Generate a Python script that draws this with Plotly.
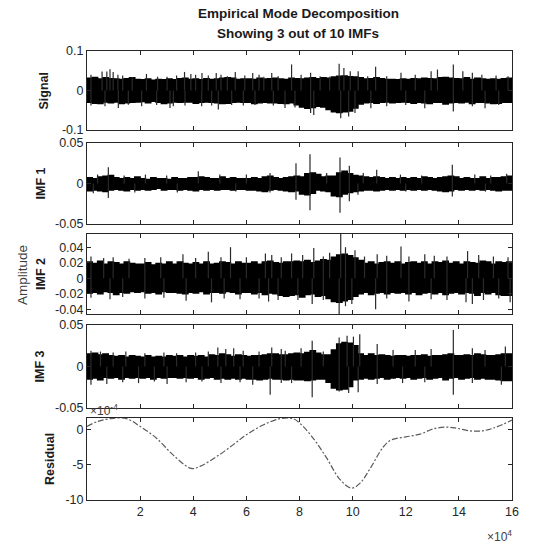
import plotly.graph_objects as go

# ---- data ----
bin_size = 2000  # samples per envelope bin
n_samples = 160000

signal_hi = [0.031, 0.033, 0.029, 0.032, 0.030, 0.029, 0.028, 0.030, 0.032, 0.028,
             0.027, 0.029, 0.026, 0.028, 0.027, 0.029, 0.027, 0.030, 0.031, 0.028,
             0.029, 0.027, 0.030, 0.028, 0.029, 0.031, 0.032, 0.031, 0.028, 0.029,
             0.029, 0.028, 0.031, 0.029, 0.030, 0.031, 0.029, 0.028, 0.031, 0.030,
             0.029, 0.031, 0.032, 0.030, 0.032, 0.031, 0.034, 0.036, 0.037, 0.035,
             0.034, 0.032, 0.029, 0.030, 0.032, 0.030, 0.028, 0.028, 0.027, 0.029,
             0.028, 0.030, 0.029, 0.031, 0.030, 0.029, 0.032, 0.033, 0.031, 0.030,
             0.029, 0.032, 0.028, 0.031, 0.029, 0.028, 0.029, 0.028, 0.030, 0.031]
signal_lo = [-0.028, -0.030, -0.032, -0.033, -0.029, -0.031, -0.029, -0.033, -0.031, -0.030,
             -0.029, -0.028, -0.031, -0.027, -0.030, -0.033, -0.031, -0.029, -0.030, -0.029,
             -0.029, -0.032, -0.030, -0.029, -0.030, -0.031, -0.033, -0.032, -0.030, -0.029,
             -0.030, -0.030, -0.033, -0.031, -0.030, -0.031, -0.031, -0.032, -0.033, -0.031,
             -0.036, -0.042, -0.045, -0.043, -0.040, -0.042, -0.048, -0.054, -0.056, -0.054,
             -0.052, -0.044, -0.034, -0.031, -0.030, -0.032, -0.030, -0.029, -0.031, -0.030,
             -0.029, -0.030, -0.032, -0.030, -0.031, -0.033, -0.030, -0.030, -0.034, -0.031,
             -0.030, -0.031, -0.029, -0.033, -0.030, -0.030, -0.031, -0.033, -0.032, -0.030]
signal_up_x = [1493, 5672, 7463, 8657, 9851, 11642, 13433, 17015, 22388, 26567, 30149, 33731,
               36716, 39104, 40895, 43283, 45671, 48656, 50447, 52835, 55820, 59402, 62387,
               64775, 66566, 69551, 71939, 77015, 80597, 84179, 87761, 91343, 94925, 96716,
               99104, 102089, 105671, 108656, 112835, 118208, 123581, 129551, 131939,
               137909, 141491, 145073, 148655, 154000, 158500]
signal_up = [0.040, 0.048, 0.048, 0.054, 0.047, 0.040, 0.038, 0.034, 0.042, 0.035, 0.035, 0.038,
             0.047, 0.042, 0.040, 0.044, 0.038, 0.044, 0.040, 0.036, 0.047, 0.038, 0.044,
             0.040, 0.035, 0.044, 0.036, 0.066, 0.040, 0.045, 0.036, 0.035, 0.068, 0.057,
             0.049, 0.049, 0.036, 0.060, 0.036, 0.045, 0.040, 0.049, 0.053, 0.066, 0.049,
             0.045, 0.040, 0.038, 0.036]
signal_dn_x = [1493, 6776, 11796, 15561, 20580, 26228, 31247, 32502, 36894, 43169, 46934, 49443,
               54463, 58855, 63247, 70148, 74541, 78306, 84179, 85373, 95522, 98507, 100895,
               106865, 112835, 119999, 127163, 137909, 145073, 149849, 155000]
signal_dn = [-0.038, -0.040, -0.044, -0.036, -0.040, -0.037, -0.044, -0.040, -0.038, -0.040,
             -0.038, -0.048, -0.037, -0.038, -0.037, -0.038, -0.044, -0.043, -0.057, -0.062,
             -0.070, -0.066, -0.057, -0.045, -0.040, -0.037, -0.045, -0.053, -0.040, -0.045,
             -0.037]

imf1_hi = [0.007, 0.006, 0.008, 0.009, 0.010, 0.007, 0.006, 0.007, 0.006, 0.008,
           0.006, 0.005, 0.007, 0.006, 0.006, 0.005, 0.007, 0.006, 0.006, 0.007,
           0.007, 0.008, 0.007, 0.006, 0.006, 0.008, 0.006, 0.007, 0.006, 0.006,
           0.006, 0.007, 0.006, 0.008, 0.009, 0.007, 0.006, 0.007, 0.008, 0.009,
           0.008, 0.012, 0.013, 0.011, 0.008, 0.009, 0.009, 0.013, 0.015, 0.012,
           0.010, 0.009, 0.008, 0.007, 0.008, 0.007, 0.006, 0.007, 0.006, 0.007,
           0.006, 0.007, 0.006, 0.008, 0.007, 0.006, 0.007, 0.008, 0.009, 0.008,
           0.006, 0.007, 0.006, 0.006, 0.008, 0.006, 0.007, 0.007, 0.008, 0.009]
imf1_lo = [-0.007, -0.009, -0.008, -0.009, -0.010, -0.008, -0.007, -0.008, -0.009, -0.007,
           -0.008, -0.007, -0.008, -0.007, -0.006, -0.008, -0.007, -0.007, -0.008, -0.007,
           -0.008, -0.009, -0.007, -0.008, -0.007, -0.008, -0.007, -0.007, -0.008, -0.007,
           -0.007, -0.008, -0.008, -0.009, -0.010, -0.008, -0.007, -0.008, -0.009, -0.010,
           -0.009, -0.013, -0.014, -0.012, -0.008, -0.009, -0.010, -0.015, -0.016, -0.013,
           -0.011, -0.010, -0.009, -0.008, -0.008, -0.009, -0.008, -0.007, -0.008, -0.007,
           -0.008, -0.007, -0.008, -0.007, -0.008, -0.007, -0.008, -0.009, -0.010, -0.009,
           -0.007, -0.008, -0.007, -0.008, -0.007, -0.008, -0.007, -0.008, -0.009, -0.008]
imf1_up_x = [4000, 8030, 14000, 22000, 30000, 41900, 50000, 60000, 68900, 78680, 83950, 90230,
             95250, 98760, 104000, 109060, 118000, 126000, 137530, 146000, 152000, 158000]
imf1_up = [0.011, 0.020, 0.010, 0.011, 0.010, 0.015, 0.011, 0.011, 0.013, 0.025, 0.036, 0.013,
           0.032, 0.022, 0.013, 0.017, 0.011, 0.010, 0.023, 0.011, 0.010, 0.012]
imf1_dn_x = [2370, 8030, 18000, 34000, 56000, 68900, 78680, 83950, 95250, 98760, 102000,
             120000, 137530, 150000]
imf1_dn = [-0.012, -0.018, -0.011, -0.011, -0.010, -0.011, -0.020, -0.033, -0.036, -0.022,
           -0.014, -0.010, -0.016, -0.010]

imf2_hi = [0.021, 0.019, 0.022, 0.018, 0.021, 0.020, 0.018, 0.021, 0.019, 0.018,
           0.018, 0.020, 0.017, 0.019, 0.018, 0.021, 0.018, 0.021, 0.019, 0.018,
           0.020, 0.018, 0.021, 0.018, 0.019, 0.021, 0.020, 0.018, 0.021, 0.019,
           0.019, 0.021, 0.018, 0.021, 0.022, 0.020, 0.019, 0.021, 0.021, 0.022,
           0.021, 0.023, 0.020, 0.022, 0.024, 0.023, 0.027, 0.030, 0.031, 0.029,
           0.026, 0.023, 0.019, 0.021, 0.018, 0.020, 0.021, 0.019, 0.021, 0.018,
           0.020, 0.021, 0.019, 0.021, 0.018, 0.021, 0.020, 0.022, 0.019, 0.021,
           0.018, 0.021, 0.020, 0.019, 0.022, 0.021, 0.018, 0.021, 0.020, 0.021]
imf2_lo = [-0.017, -0.019, -0.018, -0.020, -0.017, -0.018, -0.021, -0.018, -0.019, -0.017,
           -0.018, -0.017, -0.019, -0.018, -0.020, -0.017, -0.018, -0.018, -0.019, -0.020,
           -0.018, -0.019, -0.017, -0.020, -0.018, -0.018, -0.019, -0.017, -0.018, -0.020,
           -0.018, -0.018, -0.020, -0.018, -0.021, -0.019, -0.020, -0.022, -0.023, -0.022,
           -0.021, -0.024, -0.021, -0.020, -0.023, -0.022, -0.026, -0.030, -0.031, -0.029,
           -0.027, -0.023, -0.020, -0.018, -0.021, -0.019, -0.018, -0.020, -0.018, -0.019,
           -0.018, -0.020, -0.018, -0.021, -0.019, -0.018, -0.020, -0.018, -0.021, -0.019,
           -0.018, -0.020, -0.018, -0.019, -0.022, -0.018, -0.020, -0.018, -0.021, -0.022]
imf2_up_x = [1493, 6270, 9851, 15821, 21791, 27761, 36119, 40895, 45671, 50447, 54029, 60000,
             67163, 69551, 73133, 77015, 81194, 85373, 88955, 91343, 95522, 97313, 100895,
             104477, 109253, 112835, 118208, 121193, 127163, 130745, 135521, 143282, 147461,
             153000, 158500]
imf2_up = [0.028, 0.026, 0.027, 0.025, 0.026, 0.027, 0.031, 0.026, 0.034, 0.027, 0.040, 0.027,
           0.032, 0.030, 0.027, 0.032, 0.030, 0.039, 0.028, 0.033, 0.057, 0.040, 0.036,
           0.028, 0.031, 0.029, 0.041, 0.028, 0.031, 0.029, 0.028, 0.035, 0.030,
           0.028, 0.027]
imf2_dn_x = [1493, 8657, 13433, 21791, 28955, 37313, 46865, 51641, 57611, 64775, 68357, 71939,
             79403, 84776, 88955, 94925, 97313, 99701, 108656, 112835, 121193, 129551,
             135521, 142685, 145073, 149252, 155000, 159300]
imf2_dn = [-0.025, -0.027, -0.024, -0.026, -0.025, -0.029, -0.031, -0.026, -0.027, -0.026,
           -0.030, -0.028, -0.028, -0.033, -0.028, -0.046, -0.036, -0.033, -0.040, -0.026,
           -0.030, -0.027, -0.028, -0.031, -0.033, -0.028, -0.026, -0.031]

imf3_hi = [0.015, 0.016, 0.014, 0.015, 0.013, 0.012, 0.013, 0.011, 0.013, 0.012,
           0.011, 0.013, 0.011, 0.012, 0.011, 0.013, 0.012, 0.013, 0.011, 0.013,
           0.012, 0.013, 0.011, 0.014, 0.013, 0.015, 0.014, 0.012, 0.014, 0.013,
           0.012, 0.013, 0.013, 0.014, 0.015, 0.015, 0.014, 0.014, 0.015, 0.016,
           0.015, 0.017, 0.019, 0.016, 0.014, 0.014, 0.020, 0.027, 0.029, 0.028,
           0.025, 0.015, 0.013, 0.015, 0.013, 0.014, 0.013, 0.012, 0.013, 0.013,
           0.012, 0.013, 0.013, 0.014, 0.012, 0.013, 0.013, 0.014, 0.015, 0.013,
           0.013, 0.014, 0.013, 0.015, 0.014, 0.013, 0.013, 0.014, 0.015, 0.015]
imf3_lo = [-0.014, -0.015, -0.014, -0.016, -0.013, -0.014, -0.013, -0.015, -0.013, -0.014,
           -0.013, -0.014, -0.013, -0.015, -0.013, -0.014, -0.013, -0.013, -0.014, -0.013,
           -0.014, -0.013, -0.015, -0.014, -0.013, -0.015, -0.014, -0.015, -0.014, -0.015,
           -0.014, -0.015, -0.015, -0.016, -0.015, -0.014, -0.015, -0.015, -0.016, -0.015,
           -0.016, -0.016, -0.017, -0.016, -0.015, -0.015, -0.019, -0.026, -0.028, -0.027,
           -0.024, -0.016, -0.015, -0.014, -0.015, -0.014, -0.013, -0.015, -0.014, -0.013,
           -0.014, -0.013, -0.015, -0.014, -0.013, -0.015, -0.014, -0.013, -0.016, -0.014,
           -0.013, -0.015, -0.014, -0.013, -0.015, -0.014, -0.015, -0.015, -0.016, -0.017]
imf3_up_x = [1493, 5075, 9851, 14627, 21791, 28955, 33731, 40895, 45671, 49253, 52238, 55223,
             58805, 64775, 69551, 73133, 74627, 80597, 84776, 88955, 94925, 97910, 100298,
             102686, 109253, 115223, 123581, 129551, 137909, 145073, 149849, 157500]
imf3_up = [0.019, 0.018, 0.017, 0.018, 0.016, 0.017, 0.016, 0.017, 0.018, 0.023, 0.021, 0.022,
           0.019, 0.018, 0.023, 0.021, 0.019, 0.022, 0.031, 0.018, 0.035, 0.037, 0.036,
           0.039, 0.027, 0.020, 0.020, 0.021, 0.044, 0.022, 0.020, 0.024]
imf3_dn_x = [1493, 7463, 13433, 19403, 25373, 30149, 37313, 43283, 50447, 57611, 62387, 68954,
             73133, 77015, 84776, 94925, 98507, 102089, 109253, 118805, 127163, 137909,
             145073, 156000]
imf3_dn = [-0.022, -0.021, -0.019, -0.020, -0.018, -0.021, -0.019, -0.018, -0.020, -0.019,
           -0.022, -0.034, -0.020, -0.020, -0.037, -0.030, -0.032, -0.031, -0.021, -0.020,
           -0.019, -0.034, -0.020, -0.022]

# residual, in units of 1e-4
residual_x = [0, 4000, 8660, 14900, 20000, 26200, 32500, 39200, 42500, 48800, 55100, 60000,
              66300, 72700, 77600, 80000, 85200, 90200, 95300, 99600, 102800, 106600,
              111600, 114700, 120000, 125400, 130300, 135400, 139200, 144200, 148600,
              152900, 160000]
residual_e4 = [0.5, 1.2, 1.6, 1.6, 0.5, -1.2, -3.6, -5.5, -5.2, -3.8, -2.1, -0.7,
               0.7, 1.6, 1.6, 1.0, -1.2, -4.0, -7.1, -8.3, -7.6, -5.5,
               -2.4, -1.4, -1.0, -0.6, 0.14, 0.4, 0.24, -0.14, -0.14,
               0.24, 1.4]

panel_names = ["Signal", "IMF 1", "IMF 2", "IMF 3", "Residual"]
y_ranges = [[-0.1, 0.1], [-0.05, 0.05], [-0.046, 0.057], [-0.05, 0.05], [-10, 1.7]]
y_tickvals = [[-0.1, 0, 0.1], [-0.05, 0, 0.05], [-0.04, -0.02, 0, 0.02, 0.04],
              [-0.05, 0, 0.05], [-10, -5, 0]]
y_ticktext = [["-0.1", "0", "0.1"], ["-0.05", "0", "0.05"],
              ["-0.04", "-0.02", "0", "0.02", "0.04"], ["-0.05", "0", "0.05"],
              ["-10", "-5", "0"]]
x_tickvals = [20000, 40000, 60000, 80000, 100000, 120000, 140000, 160000]
x_ticktext = ["2", "4", "6", "8", "10", "12", "14", "16"]

# ---- layout geometry (screen pixels) ----
W, H = 550, 546
ML, MR = 87, 550 - 512
panel_px = [(51, 130), (143, 224), (234, 314), (325, 408), (418, 500)]

fig = go.Figure()
series = [(signal_hi, signal_lo, signal_up_x, signal_up, signal_dn_x, signal_dn),
          (imf1_hi, imf1_lo, imf1_up_x, imf1_up, imf1_dn_x, imf1_dn),
          (imf2_hi, imf2_lo, imf2_up_x, imf2_up, imf2_dn_x, imf2_dn),
          (imf3_hi, imf3_lo, imf3_up_x, imf3_up, imf3_dn_x, imf3_dn)]

font_family = "Liberation Sans, Arial, sans-serif"
tick_col = "#262626"
TICK_FS = 12.5

for k, (hi, lo, ux, uy, dx, dy) in enumerate(series):
    ax = "" if k == 0 else str(k + 1)
    edges = [bin_size * i for i in range(len(hi))]
    xs = edges + [n_samples] + [n_samples] + edges[::-1]
    ys = hi + [hi[-1]] + [lo[-1]] + lo[::-1]
    fig.add_trace(go.Scatter(x=xs, y=ys, mode="lines", fill="toself", line_shape="hv",
                             fillcolor="black", line=dict(color="black", width=1.5),
                             xaxis="x" + ax, yaxis="y" + ax, showlegend=False,
                             hoverinfo="skip"))
    px_, py_ = [], []
    for x0, v in list(zip(ux, uy)) + list(zip(dx, dy)):
        px_ += [x0, x0, None]
        py_ += [0, v, None]
    fig.add_trace(go.Scatter(x=px_, y=py_, mode="lines",
                             line=dict(color="#2a2a2a", width=1.2),
                             xaxis="x" + ax, yaxis="y" + ax, showlegend=False,
                             hoverinfo="skip"))

fig.add_trace(go.Scatter(x=residual_x, y=residual_e4, mode="lines", line_shape="spline",
                         line=dict(color="#5a5a5a", width=1.2, dash="6px,2px,2px,2px"),
                         xaxis="x5", yaxis="y5", showlegend=False))

layout = dict(width=W, height=H, margin=dict(l=ML, r=MR, t=0, b=0, autoexpand=False),
              paper_bgcolor="white", plot_bgcolor="white",
              font=dict(family=font_family, size=TICK_FS, color=tick_col))
for k in range(5):
    top, bot = panel_px[k]
    ax = "" if k == 0 else str(k + 1)
    layout["xaxis" + ax] = dict(
        domain=[0, 1], range=[0, n_samples], anchor="y" + ax, automargin=False,
        tickvals=x_tickvals, ticktext=x_ticktext if k == 4 else [""] * len(x_tickvals),
        showticklabels=(k == 4),
        ticks="inside", ticklen=4, tickcolor=tick_col, mirror="ticks",
        showline=True, linecolor=tick_col, linewidth=1, showgrid=False, zeroline=False,
        tickfont=dict(size=TICK_FS, color=tick_col))
    layout["yaxis" + ax] = dict(
        domain=[1 - bot / H, 1 - top / H], range=y_ranges[k], anchor="x" + ax,
        automargin=False,
        tickvals=y_tickvals[k], ticktext=y_ticktext[k],
        ticks="inside", ticklen=4, tickcolor=tick_col, mirror="ticks",
        showline=True, linecolor=tick_col, linewidth=1, showgrid=False, zeroline=False,
        tickfont=dict(size=TICK_FS, color=tick_col))
fig.update_layout(**layout)

PW = W - ML - MR
def xp(px):
    return (px - ML) / PW

def yp(py):
    return 1 - py / H

annos = []
label_x = [44, 40, 41, 40, 50]
for k in range(5):
    top, bot = panel_px[k]
    annos.append(dict(text="<b>" + panel_names[k] + "</b>", x=xp(label_x[k]), xref="paper",
                      y=yp((top + bot) / 2), yref="paper", textangle=-90,
                      showarrow=False, font=dict(size=12.5, color="#1a1a1a"),
                      xanchor="center", yanchor="middle"))
annos.append(dict(text="Amplitude", x=xp(22), xref="paper", y=yp(275), yref="paper",
                  textangle=-90, showarrow=False, font=dict(size=13.5, color="#404040"),
                  xanchor="center", yanchor="middle"))
annos.append(dict(text="<b>Empirical Mode Decomposition</b>", x=xp(298), xref="paper",
                  y=yp(13), yref="paper", showarrow=False,
                  font=dict(size=13.5, color="#1a1a1a"), xanchor="center", yanchor="middle"))
annos.append(dict(text="<b>Showing 3 out of 10 IMFs</b>", x=xp(298), xref="paper",
                  y=yp(33), yref="paper", showarrow=False,
                  font=dict(size=13.5, color="#1a1a1a"), xanchor="center", yanchor="middle"))
annos.append(dict(text="×10<sup>4</sup>", x=xp(514), xref="paper", y=yp(536), yref="paper",
                  showarrow=False, font=dict(size=12, color="#404040"),
                  xanchor="right", yanchor="middle"))
annos.append(dict(text="×10<sup>-4</sup>", x=xp(88), xref="paper", y=yp(410), yref="paper",
                  showarrow=False, font=dict(size=12, color="#404040"),
                  xanchor="left", yanchor="middle"))
fig.update_layout(annotations=annos)

fig.write_html("out.html", config={"displayModeBar": False},
               post_script="document.body.style.margin='0px';document.body.style.overflow='hidden';")
